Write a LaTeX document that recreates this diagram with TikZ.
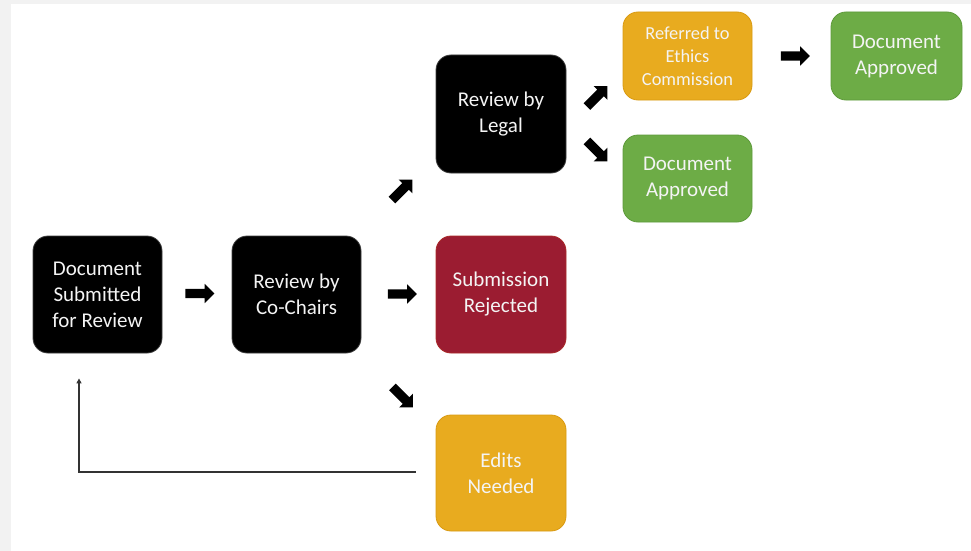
\documentclass[tikz,border=0pt]{standalone}
\usepackage{fontspec}
\setmainfont{Carlito}
\usetikzlibrary{shapes.arrows,arrows.meta,calc}
\definecolor{boxred}{HTML}{9B1C31}
\definecolor{boxgold}{HTML}{E8AB1F}
\definecolor{boxgoldline}{HTML}{D99A12}
\definecolor{boxgreen}{HTML}{6DAC46}
\definecolor{boxgreenline}{HTML}{5E9A3B}
\definecolor{txt}{HTML}{F4F4F4}
\definecolor{bggray}{HTML}{F2F2F2}
\begin{document}
\begin{tikzpicture}[x=1pt,y=-1pt,
  box/.style={rounded corners=15pt, align=center, text=txt, inner sep=0pt,
    font=\fontsize{21}{26}\selectfont, line width=0.8pt},
  blackbox/.style={box, fill=black, draw=black!75, minimum width=129pt, minimum height=117pt},
  redbox/.style={box, fill=boxred, draw=boxred!85!orange, minimum width=130pt, minimum height=117pt},
  goldbox/.style={box, fill=boxgold, draw=boxgoldline},
  greenbox/.style={box, fill=boxgreen, draw=boxgreenline},
  blockarrow/.style={single arrow, fill=black, draw=none, inner sep=4.5pt,
    minimum height=29pt, single arrow head extend=5pt, single arrow tip angle=90,
    single arrow head indent=0pt},
  feedback/.style={draw=black!80, line width=1.3pt, -{Triangle[width=5pt,length=5pt]}}
]
\useasboundingbox (0,0) rectangle (971,551);
\fill[bggray] (0,0) rectangle (971,551);
\fill[white] (11,4) rectangle (971,551);

\node[blackbox] (A) at (97.5,294.5) {Document\\Submitted\\for Review};
\node[blackbox] (B) at (296.5,294.5) {Review by\\Co-Chairs};
\node[redbox] (C) at (501,294.5) {Submission\\Rejected};
\node[blackbox, minimum width=130pt, minimum height=118pt] (D) at (501,114) {Review by\\Legal};
\node[goldbox, minimum width=130pt, minimum height=116pt] (E) at (501,473) {Edits\\Needed};
\node[goldbox, minimum width=129pt, minimum height=88pt, font=\fontsize{18.4}{23}\selectfont] (F) at (687.5,56) {Referred to\\Ethics\\Commission};
\node[greenbox, minimum width=131pt, minimum height=88pt] (G) at (896.5,56) {Document\\Approved};
\node[greenbox, minimum width=129pt, minimum height=87pt] (H) at (687.5,178.5) {Document\\Approved};

\node[blockarrow] (ab) at (197.5,293.5) {};
\node[blockarrow] (bc) at (400,294) {};
\node[blockarrow] (fg) at (793,56) {};
\node[blockarrow, rotate=45] (bd) at (400.5,191.5) {};
\node[blockarrow, rotate=-45] (be) at (401,395.5) {};
\node[blockarrow, rotate=45] (df) at (595.5,98) {};
\node[blockarrow, rotate=-45] (dh) at (595.5,149.5) {};

\coordinate (fbstart) at ($(E.west)+(-20,-1)$);
\coordinate (fbend) at ($(A.south)+(-18.5,25)$);
\draw[feedback] (fbstart) -- (fbstart -| fbend) -- (fbend);
\end{tikzpicture}
\end{document}
